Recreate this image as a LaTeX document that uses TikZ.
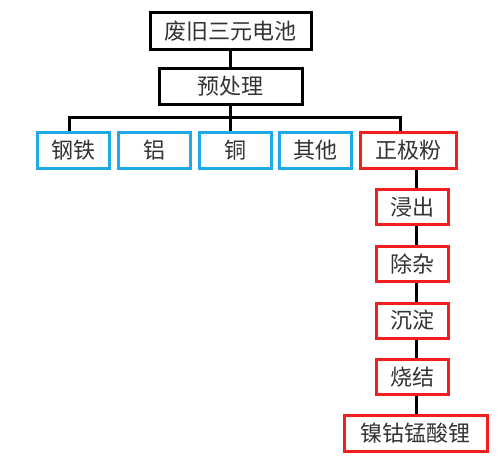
\documentclass[tikz,border=0pt]{standalone}
\usepackage{fontspec}
\setmainfont{Noto Sans CJK SC}
\begin{document}
\begin{tikzpicture}[x=1pt,y=-1pt,
  box/.style={draw=black,line width=3pt,fill=white,inner sep=0pt,text=black!80,font=\fontsize{22}{26}\selectfont},
  bbox/.style={box,draw=bluec},
  rbox/.style={box,draw=redc},
  link/.style={line width=3pt,draw=black}]
\definecolor{bluec}{RGB}{30,170,230}
\definecolor{redc}{RGB}{245,30,30}
\useasboundingbox (0,0) rectangle (500,467);
\node[box,minimum width=161pt,minimum height=37pt] (a) at (230.5,31) {废旧三元电池};
\node[box,minimum width=143pt,minimum height=36pt] (b) at (230.5,86.5) {预处理};
\node[bbox,minimum width=72pt,minimum height=36pt] (c1) at (73.5,150.5) {钢铁};
\node[bbox,minimum width=72pt,minimum height=36pt] (c2) at (154,150.5) {铝};
\node[bbox,minimum width=72pt,minimum height=36pt] (c3) at (235,150.5) {铜};
\node[bbox,minimum width=72pt,minimum height=36pt] (c4) at (315,150.5) {其他};
\node[rbox,minimum width=96pt,minimum height=36pt] (c5) at (408,150.5) {正极粉};
\node[rbox,minimum width=72pt,minimum height=35pt] (d1) at (412,207) {浸出};
\node[rbox,minimum width=72pt,minimum height=35pt] (d2) at (412,264) {除杂};
\node[rbox,minimum width=72pt,minimum height=35pt] (d3) at (412,320.5) {沉淀};
\node[rbox,minimum width=72pt,minimum height=35pt] (d4) at (412,377) {烧结};
\node[rbox,minimum width=143pt,minimum height=36pt] (d5) at (415.5,433.5) {镍钴锰酸锂};
\coordinate (bus) at (230.5,117);
\draw[link] (a.south) -- (b.north);
\draw[link] (b.south) -- (bus);
\draw[link] (c1.north -| 69,0) |- (bus) -| (c5.north -| 400,0);
\draw[link] (c2.north -| 158,0) -- (c2.north -| 158,0 |- bus);
\draw[link] (c3.north -| 230.5,0) -- (bus);
\draw[link] (c4.north -| 311,0) -- (c4.north -| 311,0 |- bus);
\draw[link] (c5.south -| 416,0) -- (d1.north -| 416,0);
\draw[link] (d1.south -| 416,0) -- (d2.north -| 416,0);
\draw[link] (d2.south -| 416,0) -- (d3.north -| 416,0);
\draw[link] (d3.south -| 416,0) -- (d4.north -| 416,0);
\draw[link] (d4.south -| 416,0) -- (d5.north -| 416,0);
\end{tikzpicture}
\end{document}
